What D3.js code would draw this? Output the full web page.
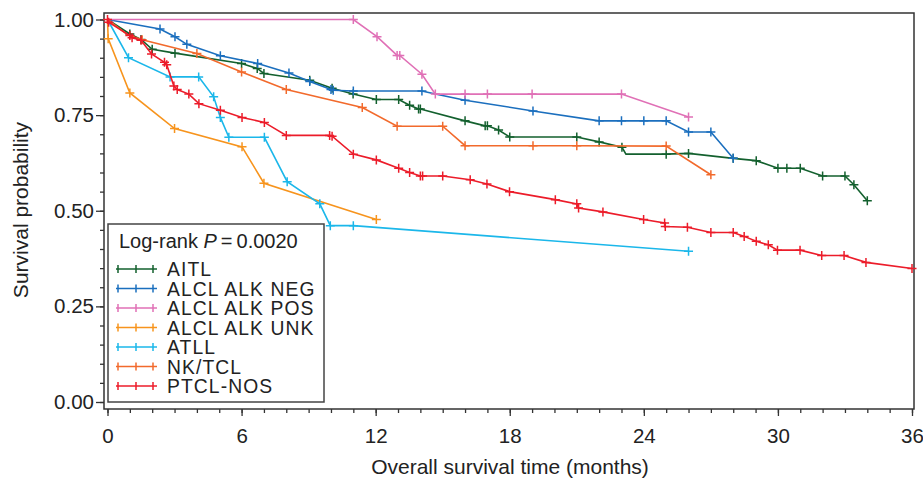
<!DOCTYPE html>
<html>
<head>
<meta charset="utf-8">
<script src="https://cdn.jsdelivr.net/npm/d3@7"></script>
<style>
  body { margin: 0; background: #fff; }
  text { font-family: "Liberation Sans", Arial, sans-serif; fill: #222; }
</style>
</head>
<body>
<div id="chart"></div>
<script>
const width = 923;
const height = 480;

const groups = ['AITL', 'ALCL ALK NEG', 'ALCL ALK POS', 'ALCL ALK UNK', 'ATLL', 'NK/TCL', 'PTCL-NOS'];
const colors = ['#13602e', '#1b6fbe', '#e070b6', '#f7941d', '#1bb7ea', '#f26a2c', '#ec1c2a'];

// time (months), survival, censor mark (1 = draw +)
const aitlTime = [0, 1.0, 1.5, 2.0, 3.02, 6.0, 6.7, 7.0, 9.05, 10.05, 10.99, 12.03, 13.03, 13.52, 13.92, 14.0, 16.0, 16.9, 17.0, 17.5, 18.0, 21.0, 22.0, 23.02, 23.2, 25.0, 26.0, 28.0, 29.03, 30.0, 30.4, 31.0, 32.0, 33.0, 33.4, 34.0];
const aitlSurv = [1, 0.962, 0.948, 0.922, 0.912, 0.885, 0.872, 0.859, 0.841, 0.82, 0.805, 0.791, 0.791, 0.776, 0.766, 0.766, 0.735, 0.722, 0.722, 0.711, 0.693, 0.693, 0.68, 0.666, 0.648, 0.648, 0.65, 0.637, 0.631, 0.611, 0.611, 0.611, 0.591, 0.591, 0.568, 0.526];
const aitlMark = [0, 1, 1, 1, 1, 1, 1, 1, 1, 1, 1, 1, 1, 1, 1, 1, 1, 1, 1, 1, 1, 1, 1, 1, 0, 1, 1, 1, 1, 1, 1, 1, 1, 1, 1, 1];

const negTime = [0, 2.35, 3.02, 3.55, 5.05, 6.72, 8.12, 9.05, 10.0, 10.1, 11.0, 14.07, 14.67, 16.0, 19.04, 22.0, 23.0, 24.0, 25.0, 26.0, 27.0, 28.0];
const negSurv = [1, 0.975, 0.955, 0.935, 0.905, 0.885, 0.86, 0.838, 0.817, 0.815, 0.813, 0.813, 0.805, 0.789, 0.761, 0.735, 0.735, 0.735, 0.735, 0.706, 0.706, 0.637];
const negMark = [0, 1, 1, 1, 1, 1, 1, 1, 1, 1, 1, 1, 0, 1, 1, 1, 1, 1, 1, 1, 1, 1];

const posTime = [0, 11.0, 12.06, 12.96, 13.08, 14.07, 14.67, 16.0, 17.0, 19.0, 23.0, 26.0];
const posSurv = [1, 1, 0.955, 0.906, 0.906, 0.857, 0.805, 0.805, 0.805, 0.805, 0.805, 0.745];
const posMark = [0, 1, 1, 1, 1, 1, 1, 1, 1, 1, 1, 1];

const unkTime = [0, 0.03, 1.0, 3.0, 6.02, 7.0, 12.03];
const unkSurv = [1, 0.95, 0.808, 0.715, 0.667, 0.572, 0.477];
const unkMark = [0, 1, 1, 1, 1, 1, 1];

const atllTime = [0, 0.94, 2.8, 4.08, 4.75, 5.05, 5.43, 7.02, 8.04, 9.5, 9.97, 11.0, 26.0];
const atllSurv = [1, 0.9, 0.85, 0.85, 0.798, 0.744, 0.692, 0.692, 0.576, 0.518, 0.461, 0.461, 0.394];
const atllMark = [0, 1, 1, 1, 1, 1, 1, 1, 1, 1, 1, 1, 1];

const nkTime = [0, 0.9, 1.55, 4.0, 6.0, 8.0, 11.4, 12.96, 15.0, 16.0, 19.04, 21.0, 25.0, 27.0];
const nkSurv = [1, 0.96, 0.947, 0.911, 0.863, 0.817, 0.77, 0.721, 0.721, 0.67, 0.67, 0.67, 0.669, 0.594];
const nkMark = [0, 0, 1, 1, 1, 1, 1, 1, 1, 1, 1, 1, 1, 1];

const ptclTime = [0, 0.05, 1.0, 1.1, 1.5, 1.97, 2.55, 2.65, 2.97, 3.12, 3.64, 4.09, 5.05, 6.02, 7.02, 8.0, 9.94, 10.05, 11.0, 12.03, 13.03, 13.52, 14.0, 14.1, 15.0, 16.23, 16.98, 17.99, 20.04, 21.0, 21.08, 22.17, 23.99, 24.93, 24.96, 25.95, 27.0, 28.0, 28.49, 29.03, 29.57, 29.98, 30.99, 31.96, 32.96, 33.94, 36.0];
const ptclSurv = [1, 0.993, 0.958, 0.952, 0.946, 0.91, 0.888, 0.882, 0.826, 0.817, 0.805, 0.78, 0.763, 0.744, 0.731, 0.697, 0.697, 0.695, 0.648, 0.633, 0.611, 0.6, 0.591, 0.591, 0.591, 0.581, 0.57, 0.55, 0.529, 0.518, 0.507, 0.497, 0.477, 0.468, 0.459, 0.457, 0.443, 0.443, 0.433, 0.42, 0.411, 0.397, 0.397, 0.383, 0.383, 0.365, 0.349];
const ptclMark = ptclTime.map(() => 1);

const xTicks = [0, 6, 12, 18, 24, 30, 36];
const yTicks = [0, 0.25, 0.5, 0.75, 1];

const series = [
  [aitlTime, aitlSurv, aitlMark],
  [negTime, negSurv, negMark],
  [posTime, posSurv, posMark],
  [unkTime, unkSurv, unkMark],
  [atllTime, atllSurv, atllMark],
  [nkTime, nkSurv, nkMark],
  [ptclTime, ptclSurv, ptclMark]
].map((s, i) => ({
  name: groups[i],
  color: colors[i],
  pts: s[0].map((t, j) => ({ t: t, s: s[1][j], m: s[2][j] }))
}));

const svg = d3.select('#chart')
  .append('svg')
  .attr('width', width)
  .attr('height', height);

const x = d3.scaleLinear().domain([0, 36]).range([107.5, 912]);
const y = d3.scaleLinear().domain([0, 1]).range([402, 19.5]);

// frame
svg.append('rect')
  .attr('x', 104).attr('y', 13)
  .attr('width', 810).attr('height', 396)
  .attr('fill', 'none')
  .attr('stroke', '#333')
  .attr('stroke-width', 1.5);

// y axis
const yMinor = svg.append('g')
  .attr('transform', 'translate(104,0)')
  .call(d3.axisLeft(y).tickValues(d3.range(0, 1.001, 0.05)).tickSize(4).tickFormat(''));
const yMajor = svg.append('g')
  .attr('transform', 'translate(104,0)')
  .call(d3.axisLeft(y).tickValues(yTicks).tickSize(8).tickPadding(2).tickFormat(d3.format('.2f')));

// x axis
const xMinor = svg.append('g')
  .attr('transform', 'translate(0,409)')
  .call(d3.axisBottom(x).tickValues(d3.range(0, 37, 1)).tickSize(4).tickFormat(''));
const xMajor = svg.append('g')
  .attr('transform', 'translate(0,409)')
  .call(d3.axisBottom(x).tickValues(xTicks).tickSize(7).tickPadding(12).tickFormat(d3.format('d')));

[yMinor, yMajor, xMinor, xMajor].forEach(g => {
  g.select('.domain').remove();
  g.selectAll('line').attr('stroke', '#333').attr('stroke-width', 1.3);
  g.selectAll('text').style('font-size', '20.5px').attr('fill', '#222');
});

svg.append('text')
  .attr('transform', 'translate(28,210) rotate(-90)')
  .style('text-anchor', 'middle')
  .style('font-size', '21px')
  .text('Survival probability');

svg.append('text')
  .attr('x', 510)
  .attr('y', 474)
  .style('text-anchor', 'middle')
  .style('font-size', '21px')
  .text('Overall survival time (months)');

// curves
const line = d3.line().x(d => x(d.t)).y(d => y(d.s));
const cross = 4.5;

series.forEach(sr => {
  const g = svg.append('g');
  g.append('path')
    .datum(sr.pts)
    .attr('d', line)
    .attr('fill', 'none')
    .attr('stroke', sr.color)
    .attr('stroke-width', 1.6);
  g.selectAll('path.mark')
    .data(sr.pts.filter(d => d.m))
    .enter()
    .append('path')
    .attr('class', 'mark')
    .attr('d', d => `M${x(d.t) - cross},${y(d.s)}h${2 * cross}M${x(d.t)},${y(d.s) - cross}v${2 * cross}`)
    .attr('stroke', sr.color)
    .attr('stroke-width', 1.5);
});

// legend
const legend = svg.append('g');
legend.append('rect')
  .attr('x', 108).attr('y', 224)
  .attr('width', 216).attr('height', 178)
  .attr('fill', '#fff')
  .attr('stroke', '#444')
  .attr('stroke-width', 1.5);

const title = legend.append('text')
  .attr('x', 119).attr('y', 248)
  .style('font-size', '20px');
title.append('tspan').text('Log-rank ');
title.append('tspan').style('font-style', 'italic').text('P');
title.append('tspan').text('\u2009=\u20090.0020');

series.forEach((sr, i) => {
  const yy = 269 + i * 19.5;
  legend.append('line')
    .attr('x1', 116).attr('x2', 157)
    .attr('y1', yy).attr('y2', yy)
    .attr('stroke', sr.color)
    .attr('stroke-width', 1.6);
  [118, 136, 153].forEach(cx => {
    legend.append('path')
      .attr('d', `M${cx},${yy - 4}v8`)
      .attr('stroke', sr.color)
      .attr('stroke-width', 1.5);
  });
  legend.append('text')
    .attr('x', 167).attr('y', yy + 7)
    .style('font-size', '19.3px')
    .style('letter-spacing', '1.1px')
    .text(sr.name);
});
</script>
</body>
</html>
